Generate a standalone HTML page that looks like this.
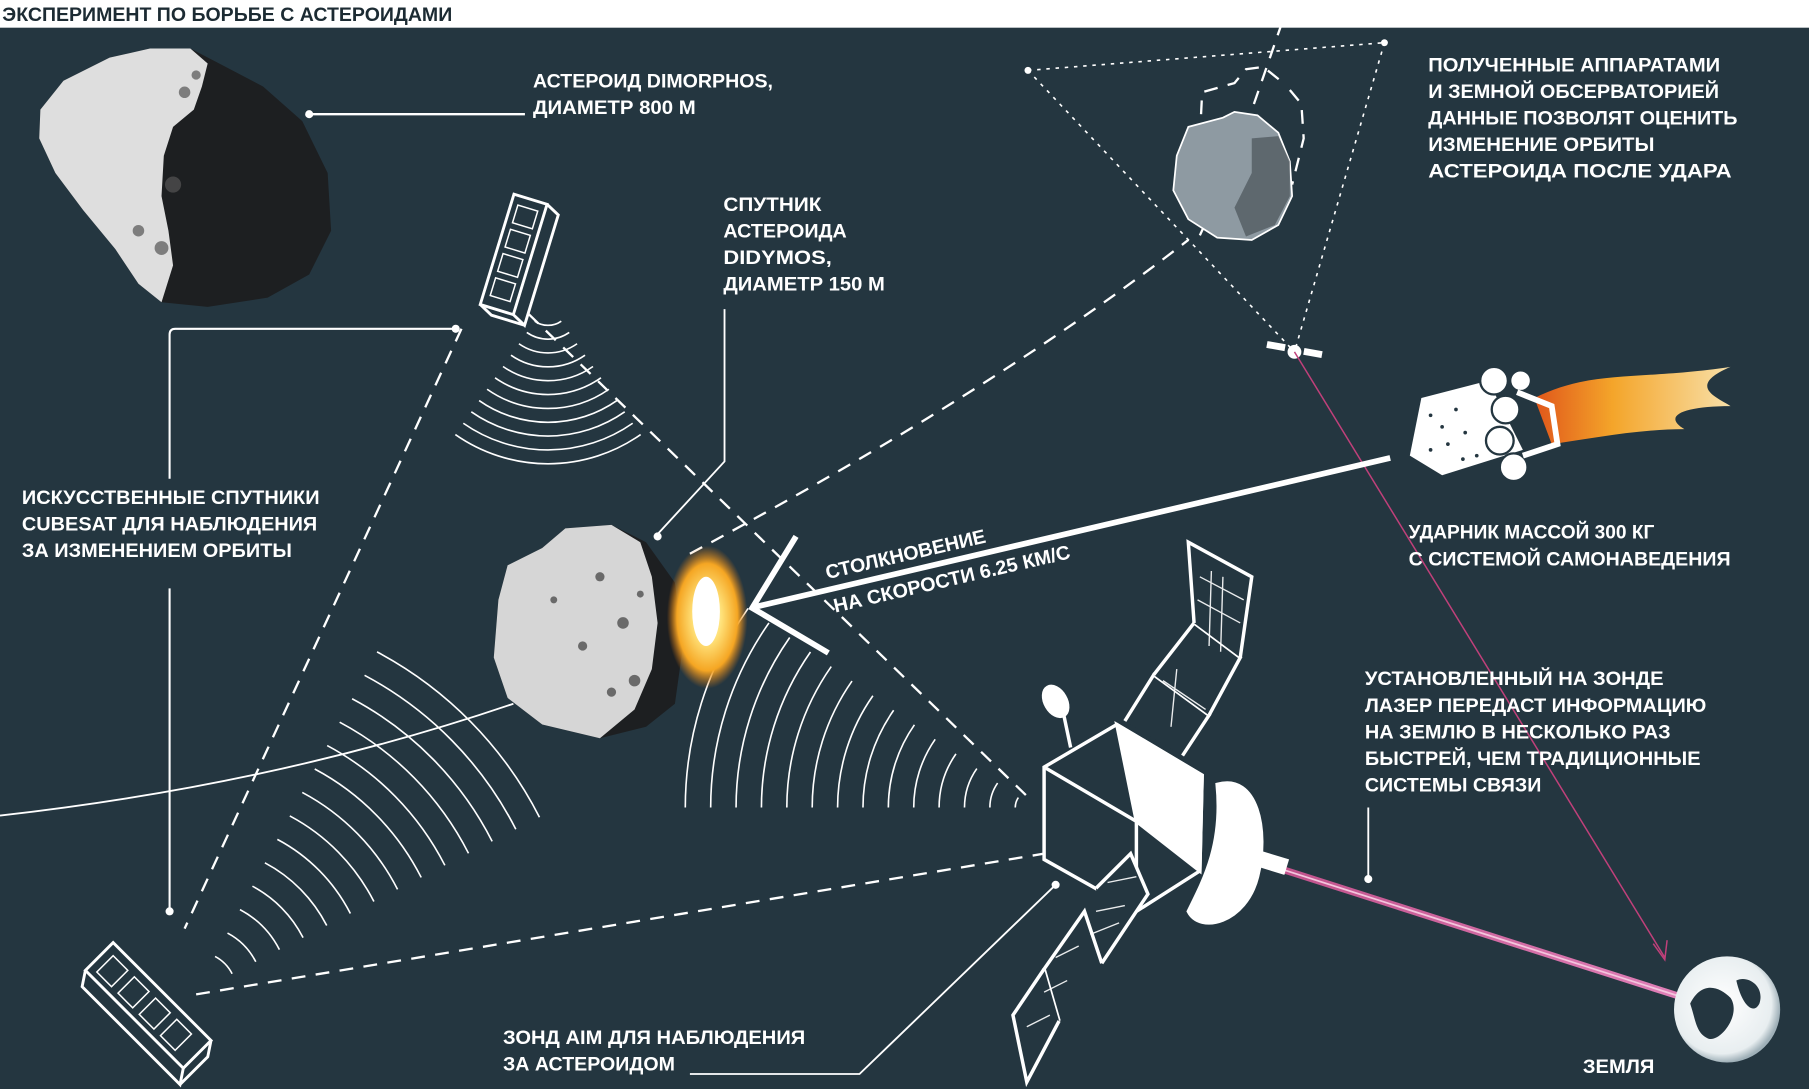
<!DOCTYPE html>
<html><head><meta charset="utf-8"><style>
html,body{margin:0;padding:0;background:#243640;}
svg{display:block}
text{font-family:"Liberation Sans","Noto Sans CJK SC",sans-serif;font-weight:bold;fill:#fff;font-size:17px}
</style></head><body>
<svg id="s" width="1809" height="1089" viewBox="0 0 1568 944" preserveAspectRatio="none" xmlns="http://www.w3.org/2000/svg">
<defs>
<radialGradient id="boom" cx="50%" cy="50%" r="50%"><stop offset="0" stop-color="#fffbe8"/><stop offset="0.35" stop-color="#ffe27a"/><stop offset="0.75" stop-color="#f5a623"/><stop offset="1" stop-color="#e07a10" stop-opacity="0"/></radialGradient>
<linearGradient id="flame" x1="0" x2="1"><stop offset="0" stop-color="#e0561a"/><stop offset="0.4" stop-color="#f4a52a"/><stop offset="1" stop-color="#f8e0a8"/></linearGradient>
<radialGradient id="earth" cx="45%" cy="45%" r="55%"><stop offset="0" stop-color="#fff"/><stop offset="0.85" stop-color="#e8eef0"/><stop offset="1" stop-color="#9fb0b8"/></radialGradient>
<linearGradient id="laser" x1="0" x2="1"><stop offset="0" stop-color="#c0508a"/><stop offset="1" stop-color="#e080b8"/></linearGradient>
</defs>
<rect x="0" y="0" width="1568" height="944" fill="#243640"/>
<rect x="0" y="0" width="1568" height="24" fill="#fff"/>
<text x="2" y="18" style="fill:#1c2b33;font-size:17px" textLength="390" lengthAdjust="spacingAndGlyphs">ЭКСПЕРИМЕНТ ПО БОРЬБЕ С АСТЕРОИДАМИ</text>

<path d="M35,95 L55,70 L95,50 L130,42 L165,42 L190,55 L228,75 L262,105 L284,150 L287,200 L268,238 L232,258 L180,266 L140,262 L120,246 L100,216 L72,182 L48,150 L34,120 Z" fill="#1d1f21"/>
<path d="M35,95 L55,70 L95,50 L130,42 L165,42 L180,55 L175,75 L168,95 L150,110 L142,135 L140,170 L146,200 L150,230 L140,262 L120,246 L100,216 L72,182 L48,150 L34,120 Z" fill="#dedede"/>
<g fill="#555" opacity="0.7"><circle cx="160" cy="80" r="5"/><circle cx="150" cy="160" r="7"/><circle cx="120" cy="200" r="5"/><circle cx="140" cy="215" r="6"/><circle cx="170" cy="65" r="4"/></g>
<circle cx="268" cy="99" r="3.5" fill="#fff"/>
<line x1="268" y1="99" x2="455" y2="99" stroke="#fff" stroke-width="2"/>
<text x="462" y="76" textLength="208" lengthAdjust="spacingAndGlyphs">АСТЕРОИД DIMORPHOS,</text>
<text x="462" y="99" textLength="141" lengthAdjust="spacingAndGlyphs">ДИАМЕТР 800 М</text>

<path d="M0,707 Q240,680 445,610" fill="none" stroke="#fff" stroke-width="1.6"/>

<g id="waves" fill="none" stroke="#fff" stroke-width="1.4"></g>

<g fill="none" stroke="#fff" stroke-width="2" stroke-dasharray="12,9">
<line x1="458" y1="272" x2="890" y2="690"/>
<line x1="400" y1="285" x2="160" y2="805"/>
<line x1="170" y1="862" x2="905" y2="740"/>
<path d="M598,480 Q860,340 1030,208"/>
<path d="M1040,204 L1065,150"/>
<path d="M1080,110 L1118,0"/>
<path d="M1040,120 L1042,80 L1070,72 L1080,60 L1095,58 L1110,70 M1118,78 L1128,90 L1130,120 L1120,160"/>
</g>
<g fill="none" stroke="#fff" stroke-width="1.4" stroke-dasharray="3,5">
<line x1="891" y1="61" x2="1200" y2="37"/>
<line x1="891" y1="61" x2="1122" y2="305"/>
<line x1="1200" y1="37" x2="1122" y2="305"/>
</g>
<circle cx="891" cy="61" r="3" fill="#fff"/><circle cx="1200" cy="37" r="3" fill="#fff"/>

<path d="M1030,110 L1060,102 L1070,97 L1090,100 L1108,115 L1118,140 L1120,170 L1108,195 L1085,208 L1055,206 L1030,190 L1017,165 L1020,135 Z" fill="#8e9aa2" stroke="#fff" stroke-width="1.5"/>
<path d="M1085,120 L1108,118 L1118,140 L1118,170 L1105,195 L1080,205 L1070,180 L1085,150 Z" fill="#4a5258" opacity="0.7"/>

<g fill="#fff"><rect x="1098" y="297" width="16" height="6" transform="rotate(10 1106 300)"/><rect x="1130" y="303" width="16" height="6" transform="rotate(10 1138 306)"/><circle cx="1122" cy="305" r="6"/></g>
<line x1="1122" y1="305" x2="1443" y2="830" stroke="#c0407a" stroke-width="1.3"/>
<path d="M1433,818 L1443,832 L1445,815" fill="none" stroke="#c0407a" stroke-width="1.3"/>

<text x="1238" y="62" textLength="253" lengthAdjust="spacingAndGlyphs">ПОЛУЧЕННЫЕ АППАРАТАМИ</text>
<text x="1238" y="85" textLength="252" lengthAdjust="spacingAndGlyphs">И ЗЕМНОЙ ОБСЕРВАТОРИЕЙ</text>
<text x="1238" y="108" textLength="268" lengthAdjust="spacingAndGlyphs">ДАННЫЕ ПОЗВОЛЯТ ОЦЕНИТЬ</text>
<text x="1238" y="131" textLength="196" lengthAdjust="spacingAndGlyphs">ИЗМЕНЕНИЕ ОРБИТЫ</text>
<text x="1238" y="154" textLength="263" lengthAdjust="spacingAndGlyphs">АСТЕРОИДА ПОСЛЕ УДАРА</text>

<g>
<path d="M1330,345 C1380,320 1420,330 1500,318 C1460,335 1490,345 1500,352 C1460,352 1440,360 1460,372 C1420,372 1380,380 1345,385 Z" fill="url(#flame)"/>
<path d="M1232,345 L1290,330 L1320,390 L1250,412 L1222,395 Z" fill="#fff"/>
<g fill="#243640"><circle cx="1240" cy="360" r="1.6"/><circle cx="1250" cy="370" r="1.6"/><circle cx="1262" cy="355" r="1.6"/><circle cx="1255" cy="385" r="1.6"/><circle cx="1270" cy="375" r="1.6"/><circle cx="1240" cy="390" r="1.6"/><circle cx="1280" cy="395" r="1.6"/><circle cx="1268" cy="398" r="1.6"/></g>
<g fill="#fff" stroke="#243640" stroke-width="2"><circle cx="1295" cy="330" r="12"/><circle cx="1305" cy="355" r="12"/><circle cx="1300" cy="382" r="12"/><circle cx="1312" cy="405" r="12"/><circle cx="1318" cy="330" r="9"/></g>
<path d="M1315,340 L1345,352 L1350,385 L1320,395" fill="none" stroke="#fff" stroke-width="5"/>
</g>
<line x1="1205" y1="397" x2="655" y2="526" stroke="#fff" stroke-width="5"/>
<path d="M690,465 L652,527 L718,566" fill="none" stroke="#fff" stroke-width="5"/>
<text x="0" y="0" transform="translate(717,502) rotate(-13)" textLength="142" lengthAdjust="spacingAndGlyphs">СТОЛКНОВЕНИЕ</text>
<text x="0" y="0" transform="translate(724,531) rotate(-13)" textLength="210" lengthAdjust="spacingAndGlyphs">НА СКОРОСТИ 6.25 КМ/С</text>
<text x="1221" y="467" textLength="213" lengthAdjust="spacingAndGlyphs">УДАРНИК МАССОЙ 300 КГ</text>
<text x="1221" y="490" textLength="279" lengthAdjust="spacingAndGlyphs">С СИСТЕМОЙ САМОНАВЕДЕНИЯ</text>

<path d="M440,490 L470,475 L490,458 L530,455 L560,470 L585,505 L592,560 L585,610 L560,630 L520,640 L470,628 L440,605 L428,570 L432,520 Z" fill="#1d1f21"/>
<path d="M440,490 L470,475 L490,458 L530,455 L555,470 L565,500 L570,540 L565,580 L550,615 L520,640 L470,628 L440,605 L428,570 L432,520 Z" fill="#d6d6d6"/>
<g fill="#6a6a6a"><circle cx="520" cy="500" r="4"/><circle cx="540" cy="540" r="5"/><circle cx="505" cy="560" r="4"/><circle cx="550" cy="590" r="5"/><circle cx="480" cy="520" r="3"/><circle cx="530" cy="600" r="4"/><circle cx="555" cy="515" r="3"/></g>
<ellipse cx="613" cy="535" rx="35" ry="62" fill="url(#boom)"/>
<ellipse cx="612" cy="530" rx="12" ry="30" fill="#fff"/>
<text x="627" y="183" textLength="85" lengthAdjust="spacingAndGlyphs">СПУТНИК</text>
<text x="627" y="206" textLength="107" lengthAdjust="spacingAndGlyphs">АСТЕРОИДА</text>
<text x="627" y="229" textLength="94" lengthAdjust="spacingAndGlyphs">DIDYMOS,</text>
<text x="627" y="252" textLength="140" lengthAdjust="spacingAndGlyphs">ДИАМЕТР 150 М</text>
<path d="M628,268 L628,400 L570,463" fill="none" stroke="#fff" stroke-width="1.6"/>
<circle cx="570" cy="465" r="3.5" fill="#fff"/>

<path d="M395,285 L152,285 Q147,285 147,290 L147,415 M147,510 L147,790" fill="none" stroke="#fff" stroke-width="1.8"/>
<circle cx="395" cy="285" r="3.5" fill="#fff"/><circle cx="147" cy="790" r="3.5" fill="#fff"/>
<text x="19" y="437" textLength="258" lengthAdjust="spacingAndGlyphs">ИСКУССТВЕННЫЕ СПУТНИКИ</text>
<text x="19" y="460" textLength="256" lengthAdjust="spacingAndGlyphs">CUBESAT ДЛЯ НАБЛЮДЕНИЯ</text>
<text x="19" y="483" textLength="234" lengthAdjust="spacingAndGlyphs">ЗА ИЗМЕНЕНИЕМ ОРБИТЫ</text>

<g transform="translate(450,222) rotate(17)" fill="none" stroke="#fff" stroke-width="2.5">
<rect x="-20" y="-50" width="30" height="100" fill="#243640"/>
<path d="M10,-50 L22,-44 L22,56 L10,50 M-20,50 L-8,56 L22,56"/>
<g stroke-width="1.3"><rect x="-14" y="-42" width="18" height="16"/><rect x="-14" y="-20" width="18" height="16"/><rect x="-14" y="2" width="18" height="16"/><rect x="-14" y="24" width="18" height="16"/></g>
</g>
<g transform="translate(132,868) rotate(-45)" fill="none" stroke="#fff" stroke-width="2.5">
<rect x="-22" y="-60" width="34" height="120" fill="#243640"/>
<path d="M-22,-60 L-34,-52 L-34,68 L-22,60 M-34,68 L0,68 L12,60"/>
<g stroke-width="1.3"><rect x="-16" y="-52" width="20" height="18"/><rect x="-16" y="-26" width="20" height="18"/><rect x="-16" y="0" width="20" height="18"/><rect x="-16" y="26" width="20" height="18"/></g>
</g>

<g fill="none" stroke="#fff" stroke-width="3">
<path d="M905,665 L968,628 L1042,672 L1040,755 L985,790 L905,745 Z" fill="#243640"/>
<path d="M968,628 L1042,672 L1040,755 L985,712 Z" fill="#fff"/>
<path d="M905,665 L985,712 L985,790"/>
<path d="M975,625 L1000,585 L1048,620 L1025,655" fill="#243640"/>
<path d="M1000,585 L1035,540 L1075,570 L1048,620" fill="#243640"/>
<path d="M1035,540 L1030,470 L1085,500 L1075,570" fill="#243640"/>
<path d="M950,770 L980,740 L995,775 L955,835" fill="#243640"/>
<path d="M955,835 L940,790 L905,840 L918,885" fill="#243640"/>
<path d="M905,840 L878,880 L890,938 L918,885" fill="#243640"/>
<path d="M1055,680 C1090,670 1100,720 1090,760 C1080,800 1040,810 1030,790 C1045,760 1060,730 1055,680 Z" fill="#fff"/>
<path d="M928,648 L920,610" /><ellipse cx="915" cy="608" rx="9" ry="14" transform="rotate(-30 915 608)" fill="#fff"/>
</g>
<g stroke="#fff" stroke-width="1.2" opacity="0.9">
<path d="M1040,500 L1078,520 M1038,520 L1075,540 M1050,495 L1048,560 M1060,500 L1058,565"/>
<path d="M1008,590 L1045,615 M1020,580 L1015,630"/>
<path d="M960,765 L985,760 M950,790 L975,785 M945,810 L970,800"/>
<path d="M915,830 L935,820 M905,860 L925,850 M890,890 L910,880"/>
</g>
<line x1="1100" y1="750" x2="1460" y2="865" stroke="url(#laser)" stroke-width="6"/>
<line x1="1100" y1="750" x2="1460" y2="865" stroke="#f4c6de" stroke-width="1.5"/>
<rect x="1088" y="740" width="28" height="14" fill="#fff" transform="rotate(17 1100 747)"/>

<circle cx="1497" cy="875" r="46" fill="url(#earth)"/>
<path d="M1465,870 C1475,850 1490,855 1500,865 C1510,880 1490,905 1480,900 C1470,895 1470,885 1465,870 Z M1505,850 C1515,845 1530,855 1525,870 C1520,880 1510,872 1505,850 Z" fill="#243640"/>
<text x="1372" y="930" textLength="62" lengthAdjust="spacingAndGlyphs">ЗЕМЛЯ</text>

<text x="1183" y="594" textLength="259" lengthAdjust="spacingAndGlyphs">УСТАНОВЛЕННЫЙ НА ЗОНДЕ</text>
<text x="1183" y="617" textLength="296" lengthAdjust="spacingAndGlyphs">ЛАЗЕР ПЕРЕДАСТ ИНФОРМАЦИЮ</text>
<text x="1183" y="640" textLength="265" lengthAdjust="spacingAndGlyphs">НА ЗЕМЛЮ В НЕСКОЛЬКО РАЗ</text>
<text x="1183" y="663" textLength="291" lengthAdjust="spacingAndGlyphs">БЫСТРЕЙ, ЧЕМ ТРАДИЦИОННЫЕ</text>
<text x="1183" y="686" textLength="153" lengthAdjust="spacingAndGlyphs">СИСТЕМЫ СВЯЗИ</text>
<line x1="1186" y1="700" x2="1186" y2="762" stroke="#fff" stroke-width="1.6"/>
<circle cx="1186" cy="762" r="3.5" fill="#fff"/>

<text x="436" y="905" textLength="262" lengthAdjust="spacingAndGlyphs">ЗОНД AIM ДЛЯ НАБЛЮДЕНИЯ</text>
<text x="436" y="928" textLength="149" lengthAdjust="spacingAndGlyphs">ЗА АСТЕРОИДОМ</text>
<path d="M598,931 L745,931 L915,767" fill="none" stroke="#fff" stroke-width="1.6"/>
<circle cx="915" cy="767" r="3.5" fill="#fff"/>
</svg>
<script>
(function(){
var g=document.getElementById('waves'),d='';
function arcs(cx,cy,r0,r1,step,a1,a2){
 for(var r=r0;r<=r1;r+=step){
  var x1=cx+r*Math.cos(a1*Math.PI/180),y1=cy+r*Math.sin(a1*Math.PI/180);
  var x2=cx+r*Math.cos(a2*Math.PI/180),y2=cy+r*Math.sin(a2*Math.PI/180);
  d+='M'+x1.toFixed(1)+','+y1.toFixed(1)+'A'+r+','+r+' 0 0 1 '+x2.toFixed(1)+','+y2.toFixed(1);
 }
}
arcs(475,262,20,145,12,55,125);
arcs(170,860,35,335,23,-62,-27);
arcs(895,700,15,310,22,180,215);
var p=document.createElementNS('http://www.w3.org/2000/svg','path');
p.setAttribute('d',d);g.appendChild(p);
})();
</script>
</body></html>
